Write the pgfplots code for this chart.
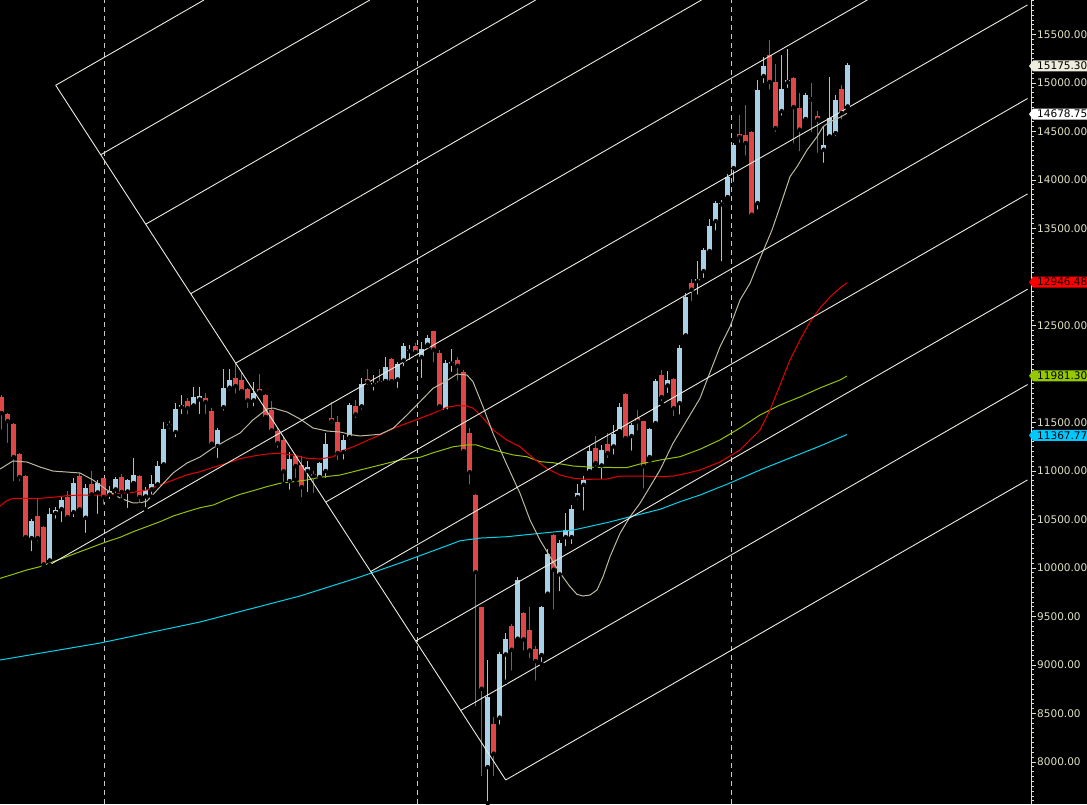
\documentclass[border=0pt]{standalone}
\usepackage{fontspec}
\setmainfont{DejaVu Sans}
\usepackage{pgfplots}
\pgfplotsset{compat=1.18}
\usepackage{pgfplotstable}

\definecolor{upbody}{RGB}{168,208,230}
\definecolor{upwick}{RGB}{150,200,235}
\definecolor{dnbody}{RGB}{225,70,70}
\definecolor{dnwick}{RGB}{225,50,50}
\definecolor{maA}{RGB}{190,185,160}
\definecolor{maB}{RGB}{230,0,0}
\definecolor{maC}{RGB}{150,195,0}
\definecolor{maD}{RGB}{0,210,235}
\definecolor{fork}{RGB}{235,235,225}
\definecolor{labcol}{RGB}{225,225,195}
\definecolor{sepcol}{RGB}{200,200,200}
\definecolor{tagA}{RGB}{238,236,218}
\definecolor{tagB}{RGB}{255,255,255}
\definecolor{tagC}{RGB}{255,0,0}
\definecolor{tagD}{RGB}{150,200,0}
\definecolor{tagE}{RGB}{0,200,255}

% weekly candles, up weeks
\pgfplotstableread{
i o h l c
5 10312 10501 10151 10487
8 10082 10615 10031 10564
9 10570 10626 10487 10598
10 10611 10735 10451 10701
12 10580 10931 10502 10883
14 10522 10862 10340 10827
16 10783 10907 10536 10883
18 10760 10850 10690 10795
19 10814 10938 10752 10917
21 10793 10920 10597 10907
22 10879 11131 10873 10958
24 10742 10831 10605 10804
25 10814 10958 10735 10873
26 10866 11106 10856 11051
27 11072 11508 11051 11440
29 11405 11697 11326 11639
30 11663 11783 11566 11680
32 11680 11869 11650 11765
33 11742 11869 11566 11773
36 11262 11440 11113 11422
37 11662 12051 11601 11859
38 11863 12051 11811 11942
42 11732 11920 11646 11807
48 10900 11191 10786 11123
51 11003 11106 10762 11041
53 10941 11095 10906 11089
54 11003 11388 10907 11285
57 11199 11371 11096 11319
58 11353 11704 11302 11680
60 11670 11955 11611 11904
62 11893 11990 11807 11904
64 11931 12172 11904 12075
66 11948 12123 11835 12103
67 12144 12316 12058 12288
68 12240 12299 12123 12255
70 12178 12333 11938 12265
71 12306 12402 12288 12374
74 11628 12140 11600 12116
75 12110 12254 12000 12127
81 7951 9051 7574 8673
83 8461 9137 8364 9120
84 9113 9333 8827 9275
86 9275 9904 9257 9876
90 9106 9611 9010 9601
91 9739 10192 9714 10151
93 9938 10288 9739 10260
94 10322 10563 10202 10399
95 10322 10649 10226 10615
96 10735 10866 10683 10780
97 10862 10948 10570 10914
98 11003 11257 10958 11209
100 11061 11268 10890 11223
102 11257 11474 11147 11381
103 11415 11704 11402 11663
105 11364 11494 11188 11474
108 11147 11443 11106 11433
109 11498 11945 11463 11928
111 11886 12031 11783 11945
113 11704 12299 11560 12275
114 12402 12838 12374 12797
116 12962 13165 12797 12979
117 13065 13296 12969 13278
118 13271 13598 13250 13526
119 13580 13786 13457 13770
120 13753 13794 13141 13766
121 13828 14062 13811 14034
122 14127 14384 13959 14361
126 13766 15031 13673 14935
127 15075 15271 14979 15175
130 14714 15289 14642 14945
131 15013 15347 14928 15038
134 14632 14894 14618 14883
137 14316 14543 14155 14361
138 14453 15065 14430 14646
139 14487 14876 14430 14832
141 14762 15209 14732 15186
}\upT

% weekly candles, down weeks
\pgfplotstableread{
i o h l c
0 11766 11783 11405 11601
1 11587 11601 11268 11518
2 11491 11491 10873 11147
3 11175 11188 10873 10941
4 10948 10958 10271 10322
6 10536 10711 10254 10312
7 10422 10430 10013 10041
11 10735 10793 10495 10528
13 10948 10976 10590 10608
15 10866 11003 10752 10763
17 10931 10931 10632 10735
20 10938 10969 10700 10787
23 10948 10958 10649 10735
28 11484 11518 11415 11471
31 11721 11752 11560 11653
34 11760 11801 11566 11714
35 11618 11649 11268 11285
39 11966 12110 11776 11879
40 11945 12013 11783 11828
41 11852 11852 11628 11732
43 11852 12000 11800 11817
44 11783 11793 11525 11560
45 11636 11721 11402 11422
46 11415 11443 11216 11291
47 11319 11354 10866 11000
49 11157 11175 10907 11054
50 11062 11157 10708 10838
52 10976 11000 10752 10951
55 11553 11708 11474 11518
56 11508 11567 11090 11188
59 11670 11731 11525 11587
61 11948 12051 11863 11920
63 11931 12051 11876 11910
65 12154 12160 11904 11931
69 12288 12316 12162 12230
72 12443 12443 12100 12255
73 12219 12250 11646 11670
76 12144 12172 11910 12089
77 12024 12040 11182 11209
78 11399 11440 10838 10992
79 10752 10762 8553 9960
80 9601 9601 7832 8759
82 8398 8467 7832 8089
85 9402 9420 8920 9161
87 9543 9546 9127 9268
88 9360 9601 9051 9154
89 9171 9195 8817 9044
92 10340 10350 9549 9986
99 11240 11360 11027 11085
101 11285 11388 11113 11188
104 11793 11801 11309 11343
106 11553 11628 11394 11515
107 11515 11515 10797 11054
110 11990 12041 11697 11766
112 11948 11958 11543 11652
115 12945 12976 12731 12873
123 14481 14670 14361 14446
124 14464 14773 14230 14385
125 14498 14505 13605 13646
128 15289 15443 14910 15015
129 15014 15196 14474 14539
132 15059 15060 14354 14756
133 14749 14894 14275 14523
135 14853 15003 14471 14835
136 14660 14711 14258 14626
140 14938 14979 14601 14694
}\dnT

% 20-week average
\pgfplotstableread{
i p
-0.28 11020
1.88 11103
4.22 11092
6.38 11041
8.55 10999
10.88 10989
13.05 10979
15.22 10907
17.55 10804
19.72 10721
21.88 10670
23.05 10670
24.22 10690
26.38 10835
28.55 10979
30.88 11082
33.05 11144
35.22 11237
37.55 11319
39.72 11391
41.88 11526
44.22 11639
45.22 11649
47.55 11608
49.72 11536
51.88 11443
54.22 11412
56.38 11402
58.55 11371
59.72 11361
63.05 11378
65.22 11440
67.55 11577
69.72 11714
71.88 11852
74.22 11931
75.88 11999
77.55 11989
78.55 11920
80.22 11663
81.88 11388
84.22 11061
86.38 10770
88.05 10495
89.72 10288
91.38 10116
93.05 9948
94.72 9807
95.88 9728
96.88 9711
98.05 9721
99.22 9773
100.22 9910
101.38 10116
103.05 10357
104.72 10528
106.38 10667
108.05 10838
109.72 11010
111.88 11285
114.22 11526
116.38 11749
117.55 11938
119.72 12281
121.38 12487
123.05 12763
124.72 12935
126.05 13141
128.38 13484
129.72 13725
131.38 14034
132.55 14137
134.22 14309
135.88 14446
136.88 14549
138.05 14601
139.72 14646
140.88 14688
}\maAT

% 50-week average
\pgfplotstableread{
i p
-0.28 10639
0.83 10693
1.93 10718
6.38 10718
8.6 10729
10.83 10745
13.05 10752
17.5 10752
19.72 10770
21.93 10780
24.17 10804
26.38 10855
28.6 10907
30.83 10959
33.05 10993
35.27 11038
37.5 11079
39.72 11127
41.93 11154
44.17 11175
46.38 11182
48.6 11165
50.83 11131
53.05 11123
55.27 11147
56.38 11199
58.6 11250
60.83 11312
63.05 11371
65.27 11440
67.5 11492
69.72 11543
71.93 11595
74.17 11657
75.83 11673
77.5 11670
78.6 11646
80.27 11543
81.93 11422
84.17 11319
86.38 11250
88.6 11131
90.83 11027
93.05 10958
95.27 10925
97.5 10914
100.83 10917
103.05 10948
106.38 10948
109.72 10941
111.93 10948
114.17 10976
116.38 11010
119.72 11093
123.05 11216
126.38 11422
128.05 11629
129.72 11886
131.38 12144
133.05 12350
134.72 12536
136.38 12680
138.05 12794
139.72 12886
140.88 12941
}\maBT

% 100-week average
\pgfplotstableread{
i p
-0.28 9893
1.93 9935
4.17 9979
6.38 10013
8.6 10065
10.83 10116
13.05 10168
15.27 10219
17.5 10271
19.72 10316
21.93 10374
24.17 10426
26.38 10477
28.6 10536
30.83 10580
33.05 10621
35.27 10649
37.5 10708
39.72 10759
41.93 10797
44.17 10838
46.38 10873
48.6 10889
50.83 10907
53.05 10935
56.38 10958
59.72 11010
63.05 11061
66.38 11113
69.72 11141
71.93 11188
75.27 11250
77.5 11268
79.17 11268
80.83 11234
83.05 11199
85.27 11165
87.5 11147
89.72 11096
91.93 11085
95.27 11051
98.6 11038
104.17 11034
106.38 11072
109.72 11113
113.05 11147
116.38 11224
119.72 11320
123.05 11443
126.38 11577
129.72 11680
133.05 11763
136.38 11856
139.72 11938
140.88 11979
}\maCT

% 200-week average
\pgfplotstableread{
i p
-0.28 9051
16.38 9226
33.05 9443
49.72 9711
59.22 9897
66.38 10051
73.05 10203
76.38 10280
79.72 10308
84.17 10322
89.72 10357
95.27 10391
100.83 10467
105.27 10536
109.72 10605
113.05 10683
116.38 10752
121.38 10876
126.38 11010
131.38 11134
136.38 11257
140.88 11376
}\maDT

\newcommand{\pricetag}[3]{%
  \fill[#2] (axis cs:171.22,#1) -- ++(4pt,5.5pt) -- ++(70pt,0pt) -- ++(0pt,-11pt) -- ++(-70pt,0pt) -- cycle;
  \node[anchor=west, inner sep=0pt, xshift=6pt, text=black, font=\fontsize{10.5}{12}\selectfont] at (axis cs:171.55,#1) {#3};
}

\begin{document}
\begin{tikzpicture}
\fill[black] (0pt,0pt) rectangle (1087pt,804pt);
\begin{axis}[
  at={(0pt,0pt)}, anchor=south west,
  width=1031pt, height=804pt, scale only axis,
  xmin=-0.283, xmax=171.55, ymin=7566.5, ymax=15855.7,
  axis x line=none, axis y line=right,
  y axis line style={-, draw=labcol, line width=1pt},
  ytick={8000,8500,9000,9500,10000,10500,11000,11500,12000,12500,13000,13500,14000,14500,15000,15500},
  yticklabels={8000.00,8500.00,9000.00,9500.00,10000.00,10500.00,11000.00,11500.00,{},12500.00,{},13500.00,14000.00,14500.00,15000.00,15500.00},
  minor ytick={7600,7650,...,15850},
  tick align=outside,
  major tick length=5pt, minor tick length=3pt,
  tick style={draw=labcol, line width=0.8pt},
  scaled y ticks=false,
  yticklabel style={font=\fontsize{10.5}{12}\selectfont, text=labcol, anchor=west, inner sep=0pt, xshift=1pt},
  clip=false,
]
% year separators
\addplot[sepcol, line width=0.8pt, dash pattern=on 5pt off 4pt] coordinates {(17.05,7566.5) (17.05,15855.7)};
\addplot[sepcol, line width=0.8pt, dash pattern=on 5pt off 4pt] coordinates {(69.2,7566.5) (69.2,15855.7)};
\addplot[sepcol, line width=0.8pt, dash pattern=on 5pt off 4pt] coordinates {(121.6,7566.5) (121.6,15855.7)};

% wicks (one segment from low up to high)
\addplot[only marks, mark=none, error bars/.cd, y dir=plus, y explicit, error mark=none,
  error bar style={draw=upwick, line width=1pt}]
  table[x=i, y=l, y error expr={\thisrow{h}-\thisrow{l}}] {\upT};
\addplot[only marks, mark=none, error bars/.cd, y dir=plus, y explicit, error mark=none,
  error bar style={draw=dnwick, line width=1pt}]
  table[x=i, y=l, y error expr={\thisrow{h}-\thisrow{l}}] {\dnT};
% bodies (one segment from the lower of open/close up to the higher)
\addplot[only marks, mark=none, error bars/.cd, y dir=plus, y explicit, error mark=none,
  error bar style={draw=upbody, line width=4.6pt}]
  table[x=i, y expr={min(\thisrow{o},\thisrow{c})-4}, y error expr={max(abs(\thisrow{c}-\thisrow{o}),14)}] {\upT};
\addplot[only marks, mark=none, error bars/.cd, y dir=plus, y explicit, error mark=none,
  error bar style={draw=dnbody, line width=4.6pt}]
  table[x=i, y expr={min(\thisrow{o},\thisrow{c})-4}, y error expr={max(abs(\thisrow{o}-\thisrow{c}),14)}] {\dnT};

% moving averages
\addplot[maD, line width=1pt, no marks] table[x=i, y=p] {\maDT};
\addplot[maC, line width=1pt, no marks] table[x=i, y=p] {\maCT};
\addplot[maB, line width=1pt, no marks] table[x=i, y=p] {\maBT};
\addplot[maA, line width=1pt, no marks] table[x=i, y=p] {\maAT};

% channel drawing
\addplot[fork, line width=0.9pt, no marks] coordinates {(9,14976.3) (84,7814.3)};
\addplot[fork, line width=0.9pt, no marks] coordinates {(9,14976.3) (33.72,15855.7)};
\addplot[fork, line width=0.9pt, no marks] coordinates {(16.5,14260.1) (61.36,15855.7)};
\addplot[fork, line width=0.9pt, no marks] coordinates {(24,13543.9) (88.99,15855.7)};
\addplot[fork, line width=0.9pt, no marks] coordinates {(31.5,12827.7) (116.63,15855.7)};
\addplot[fork, line width=0.9pt, no marks] coordinates {(39,12111.5) (144.26,15855.7)};
\addplot[fork, line width=0.9pt, no marks] coordinates {(7.93,10030.7) (170.97,15805)};
\addplot[fork, line width=0.9pt, no marks] coordinates {(54,10679.1) (170.97,14839.7)};
\addplot[fork, line width=0.9pt, no marks] coordinates {(61.5,9962.9) (170.97,13856.7)};
\addplot[fork, line width=0.9pt, no marks] coordinates {(69,9246.7) (170.97,12873.7)};
\addplot[fork, line width=0.9pt, no marks] coordinates {(76.5,8530.5) (170.97,11890.8)};
\addplot[fork, line width=0.9pt, no marks] coordinates {(84,7814.3) (170.97,10907.8)};

% price tags
\pricetag{15175.30}{tagA}{15175.30}
\pricetag{14678.75}{tagB}{14678.75}
\pricetag{12946.48}{tagC}{12946.48}
\pricetag{11981.30}{tagD}{11981.30}
\pricetag{11367.77}{tagE}{11367.77}
\end{axis}
\pgfresetboundingbox
\path (0pt,0pt) rectangle (1087pt,804pt);
\end{tikzpicture}
\end{document}
